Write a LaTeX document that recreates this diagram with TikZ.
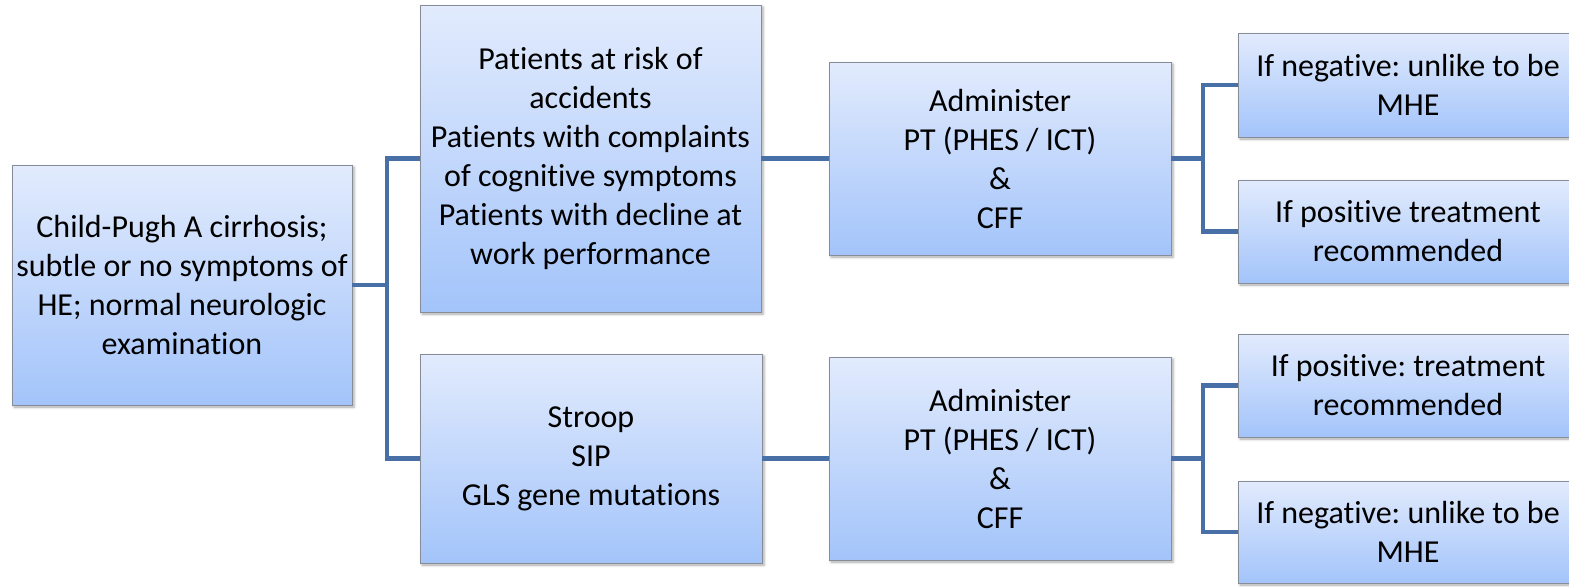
\documentclass[tikz,border=0pt]{standalone}
\usepackage{fontspec}
\setmainfont[Ligatures=NoCommon]{Carlito}
\frenchspacing
\usetikzlibrary{shadows.blur}
\definecolor{boxtop}{RGB}{226,235,253}
\definecolor{boxbot}{RGB}{163,196,250}
\definecolor{boxedge}{RGB}{135,140,150}
\definecolor{conncol}{RGB}{72,112,166}
\tikzset{
  flowbox/.style={rectangle, draw=boxedge, line width=0.6pt, top color=boxtop, bottom color=boxbot,
    align=center, inner sep=2pt, font=\fontsize{24}{29.25}\selectfont,
    blur shadow={shadow xshift=1.5pt, shadow yshift=-1.5pt, shadow blur radius=2pt, shadow opacity=35}},
  conn/.style={draw=conncol, line width=3.2pt, line cap=butt, line join=miter}
}
\begin{document}
\begin{tikzpicture}[x=0.75pt,y=-0.75pt]
\useasboundingbox (0,0) rectangle (1569,586);
\clip (0,0) rectangle (1569,586);
\node[flowbox, minimum width=255pt, minimum height=180pt] (A) at (182,285)
  {Child-Pugh A cirrhosis;\\subtle or no symptoms of\\HE; normal neurologic\\examination};
\node[flowbox, minimum width=255.75pt, minimum height=230.25pt] (B) at (590.5,158.5)
  {Patients at risk of\\accidents\\Patients with complaints\\of cognitive symptoms\\Patients with decline at\\work performance};
\node[flowbox, minimum width=256.5pt, minimum height=156.75pt] (C) at (591,458.5)
  {Stroop\\SIP\\GLS gene mutations};
\node[flowbox, minimum width=256.5pt, minimum height=144.75pt] (D) at (1000,158.5)
  {Administer\\PT (PHES / ICT)\\\&\\CFF};
\node[flowbox, minimum width=256.5pt, minimum height=152.25pt] (E) at (1000,458.5)
  {Administer\\PT (PHES / ICT)\\\&\\CFF};
\node[flowbox, minimum width=255pt, minimum height=78pt] (R1) at (1408,85)
  {If negative: unlike to be\\MHE};
\node[flowbox, minimum width=255pt, minimum height=77.25pt] (R2) at (1408,231.5)
  {If positive treatment\\recommended};
\node[flowbox, minimum width=255pt, minimum height=77.25pt] (R3) at (1408,385.5)
  {If positive: treatment\\recommended};
\node[flowbox, minimum width=255pt, minimum height=76.5pt] (R4) at (1408,532)
  {If negative: unlike to be\\MHE};
\coordinate (j1) at (387,285);
\coordinate (j2) at (1203,158.5);
\coordinate (j3) at (1203,458.5);
\draw[conn] (A.east) -- (j1);
\draw[conn] (B.west) -| (j1) |- (C.west);
\draw[conn] (B.east) -- (D.west);
\draw[conn] (C.east) -- (E.west);
\draw[conn] (D.east) -- (j2);
\draw[conn] (R1.west) -| (j2) |- (R2.west);
\draw[conn] (E.east) -- (j3);
\draw[conn] (R3.west) -| (j3) |- (R4.west);
\end{tikzpicture}
\end{document}
